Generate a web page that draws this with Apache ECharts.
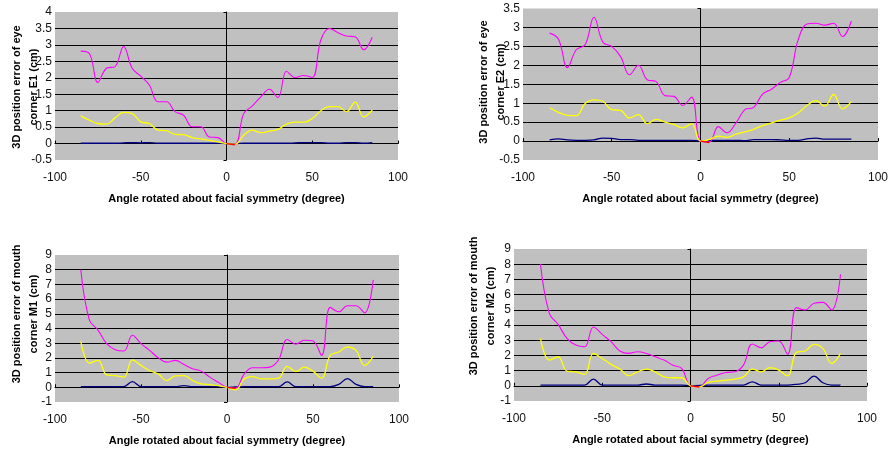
<!DOCTYPE html>
<html><head><meta charset="utf-8">
<script src="https://cdn.jsdelivr.net/npm/echarts@6/dist/echarts.min.js"></script>
<style>html,body{margin:0;padding:0;background:#fff}#c{width:891px;height:452px}</style>
</head><body><div id="c"></div>
<script>
// angles (degree)
var angles = [-85,-80,-75,-70,-65,-60,-55,-50,-45,-40,-35,-30,-25,-20,-15,-10,-5,0,5,10,15,20,25,30,35,40,45,50,55,60,65,70,75,80,85];
var xTicks = [-100,-50,0,50,100];

// Eye corner E1
var e1Navy    = [0.01,0.01,0.01,0.01,0.01,0.02,0.03,0.02,0.03,0.01,0.01,0.01,0.01,0.01,0.01,0.01,0.01,0,0,0.01,0.01,0.01,0.01,0.01,0.01,0.02,0.03,0.03,0.03,0.01,0.01,0.03,0.03,0.01,0.03];
var e1Magenta = [2.81,2.74,1.86,2.29,2.34,2.95,2.29,2.05,1.78,1.27,1.27,0.97,0.86,0.51,0.51,0.2,0.18,0,-0.02,0.91,1.14,1.42,1.65,1.4,2.2,2.01,2.07,2.01,3.15,3.5,3.37,3.27,3.25,2.85,3.23];
var e1Yellow  = [0.84,0.71,0.61,0.59,0.78,0.95,0.91,0.66,0.61,0.41,0.39,0.28,0.27,0.18,0.14,0.1,0.05,0,-0.02,0.25,0.41,0.33,0.38,0.43,0.59,0.65,0.65,0.76,1.0,1.12,1.12,0.97,1.26,0.81,1.02];
var e1Red     = [null,null,null,null,null,null,null,null,null,null,null,null,null,null,null,null,null,0,-0.04,null,null,null,null,null,null,null,null,null,null,null,null,null,null,null,null];

// Eye corner E2
var e2Navy    = [0.03,0.06,0.03,0.02,0.02,0.03,0.08,0.07,0.04,0.04,0.02,0.02,0.02,0.02,0.02,0.02,0.02,0,0.01,0.02,0.02,0.02,0.01,0.04,0.04,0.04,0.03,0.02,0.02,0.06,0.08,0.05,0.05,0.05,0.05];
var e2Magenta = [2.85,2.69,1.94,2.41,2.54,3.27,2.61,2.5,2.23,1.75,2.0,1.62,1.57,1.2,1.18,0.94,1.16,0,-0.02,0.38,0.22,0.48,0.83,0.89,1.24,1.37,1.55,1.68,2.67,3.09,3.11,3.06,3.11,2.76,3.17];
var e2Yellow  = [0.88,0.76,0.68,0.67,0.99,1.09,1.05,0.83,0.81,0.61,0.70,0.46,0.57,0.5,0.44,0.35,0.46,0,0.04,0.13,0.1,0.18,0.24,0.31,0.41,0.48,0.55,0.61,0.74,0.94,1.07,0.92,1.23,0.85,1.05];
var e2Red     = [null,null,null,null,null,null,null,null,null,null,null,null,null,null,null,null,null,0,-0.04,null,null,null,null,null,null,null,null,null,null,null,null,null,null,null,null];

// Mouth corner M1
var m1Navy    = [0.05,0.05,0.05,0.05,0.05,0.05,0.38,0.05,0.05,0.05,0.05,0.05,0.12,0.05,0.05,0.05,0.05,0,0.02,0.05,0.05,0.05,0.05,0.05,0.37,0.05,0.05,0.05,0.05,0.05,0.2,0.59,0.2,0.05,0.05];
var m1Magenta = [8.0,4.57,3.89,2.97,2.56,2.47,3.54,2.97,2.51,2.01,1.71,1.83,1.55,1.26,1.1,0.69,0.34,0,-0.05,0.91,1.33,1.33,1.37,1.87,3.25,2.93,3.2,3.15,2.17,5.44,5.14,5.55,5.55,5.07,7.31];
var m1Yellow  = [3.13,1.65,1.83,0.85,0.8,0.69,1.87,1.49,1.14,0.91,0.46,0.78,0.8,0.46,0.23,0.18,0.11,0,-0.18,0.57,0.73,0.57,0.57,0.62,1.42,1.07,1.37,1.1,0.62,2.17,2.4,2.74,2.51,1.49,2.1];
var m1Red     = [null,null,null,null,null,null,null,null,null,null,null,null,null,null,null,null,null,0,-0.08,null,null,null,null,null,null,null,null,null,null,null,null,null,null,null,null];

// Mouth corner M2
var m2Navy    = [0.05,0.05,0.05,0.05,0.05,0.05,0.44,0.05,0.05,0.05,0.05,0.05,0.12,0.05,0.05,0.05,0.05,0,0.02,0.05,0.05,0.05,0.05,0.05,0.26,0.05,0.05,0.05,0.05,0.1,0.2,0.64,0.2,0.05,0.05];
var m2Magenta = [8.0,4.77,4.04,3.12,2.68,2.57,3.87,3.38,2.9,2.29,2.13,2.24,2.13,1.91,1.69,1.36,1.14,0,-0.07,0.48,0.7,0.88,0.92,1.36,2.75,2.5,2.9,2.95,2.07,5.14,4.99,5.43,5.49,4.99,7.34];
var m2Yellow  = [3.12,1.69,1.91,0.97,0.92,0.75,2.13,1.8,1.41,1.1,0.66,0.92,1.1,0.92,0.59,0.53,0.53,0,-0.07,0.22,0.31,0.37,0.44,0.59,1.1,0.92,1.19,1.03,0.66,2.2,2.29,2.73,2.46,1.47,2.13];
var m2Red     = [null,null,null,null,null,null,null,null,null,null,null,null,null,null,null,null,null,0,-0.08,null,null,null,null,null,null,null,null,null,null,null,null,null,null,null,null];

var yTitles = ['3D position error of eye\ncorner E1 (cm)','3D position error of eye\ncorner E2 (cm)','3D position error of mouth\ncorner M1 (cm)','3D position error of mouth\ncorner M2 (cm)'];
var xTitle = 'Angle rotated about facial symmetry (degree)';
var yMin = [-0.5,-0.5,-1,-1], yMax = [4,3.5,9,9], yStep = [0.5,0.5,1,1];

var panels = [
  {navy:e1Navy, mag:e1Magenta, yel:e1Yellow, red:e1Red},
  {navy:e2Navy, mag:e2Magenta, yel:e2Yellow, red:e2Red},
  {navy:m1Navy, mag:m1Magenta, yel:m1Yellow, red:m1Red},
  {navy:m2Navy, mag:m2Magenta, yel:m2Yellow, red:m2Red}
];

// layout
var grids = [
  {left:55, top:12, width:343, height:148},
  {left:523, top:8.5, width:356, height:151.5},
  {left:55, top:255, width:344, height:147},
  {left:514, top:249, width:353, height:152}
];
var yTitlePos = [[25,87],[492,82],[25,314],[482,306]];

var tickFont = "'Liberation Sans',Arial,sans-serif";
var boldFont = "'Liberation Sans',Arial,sans-serif";

function zip(v){ return angles.map(function(a,i){ return [a, v[i]]; }); }

var option = {animation:false, grid:[], xAxis:[], yAxis:[], series:[], graphic:[]};
grids.forEach(function(g,i){
  option.grid.push({left:g.left, top:g.top, width:g.width, height:g.height, show:true, backgroundColor:'#C0C0C0', borderWidth:0});
  // bottom labelled axis
  option.xAxis.push({type:'value', gridIndex:i, min:xTicks[0], max:xTicks[xTicks.length-1], interval:50, position:'bottom',
    axisLine:{show:false, onZero:false}, axisTick:{show:false}, splitLine:{show:false},
    axisLabel:{margin:12, fontSize:12, fontFamily:tickFont, color:'#111'},
    name:xTitle, nameLocation:'middle', nameGap:33, nameTextStyle:{fontSize:11, fontWeight:'bold', fontFamily:boldFont, color:'#000'}});
  // zero-crossing axis line
  option.xAxis.push({type:'value', gridIndex:i, min:xTicks[0], max:xTicks[xTicks.length-1], interval:50,
    axisLine:{show:true, onZero:true, lineStyle:{color:'#000', width:1}}, axisTick:{show:true, length:3, lineStyle:{color:'#000'}},
    axisLabel:{show:false}, splitLine:{show:false}});
  option.yAxis.push({type:'value', gridIndex:i, min:yMin[i], max:yMax[i], interval:yStep[i],
    axisLine:{show:true, onZero:true, lineStyle:{color:'#000', width:1}}, axisTick:{show:true, length:3, lineStyle:{color:'#000'}},
    axisLabel:{margin:3, fontSize:12, fontFamily:tickFont, color:'#111'},
    splitLine:{show:true, showMinLine:false, showMaxLine:false, lineStyle:{color:'#000', width:1}}});
  var p = panels[i];
  var common = {type:'line', xAxisIndex:i*2, yAxisIndex:i, showSymbol:false, symbol:'none', smooth:0.4};
  option.series.push(Object.assign({}, common, {data:zip(p.navy), lineStyle:{color:'#000080', width:1.3}}));
  option.series.push(Object.assign({}, common, {data:zip(p.mag), lineStyle:{color:'#FF00FF', width:1.1}}));
  option.series.push(Object.assign({}, common, {data:zip(p.yel), lineStyle:{color:'#FFFF00', width:1.3}}));
  option.series.push(Object.assign({}, common, {data:zip(p.red), lineStyle:{color:'#FF0000', width:1.3}, smooth:false}));
  option.graphic.push({type:'text', x:yTitlePos[i][0], y:yTitlePos[i][1], rotation:Math.PI/2,
    style:{text:yTitles[i], font:'bold 11px '+boldFont, fill:'#000', align:'center', verticalAlign:'middle', lineHeight:17}});
});

var chart = echarts.init(document.getElementById('c'), null, {renderer:'canvas'});
chart.setOption(option);
</script></body></html>
